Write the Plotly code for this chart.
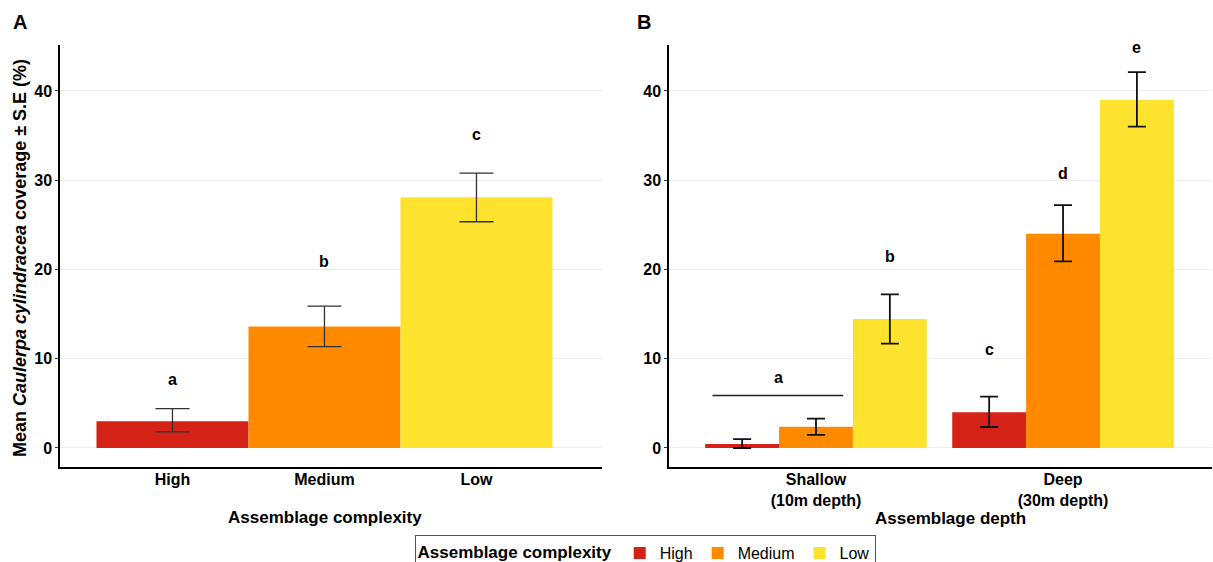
import plotly.graph_objects as go

# ---- data ----
complexity = ["High", "Medium", "Low"]
colors = ["#D42316", "#FF8A00", "#FDE22E"]

# Panel A
a_mean = [3.0, 13.6, 28.1]
a_upper = [4.4, 15.9, 30.8]
a_lower = [1.8, 11.35, 25.35]
a_letters = ["a", "b", "c"]
a_letter_y = [7.7, 20.9, 35.1]

# Panel B
depths = ["Shallow<br>(10m depth)", "Deep<br>(30m depth)"]
b_mean = {"High": [0.45, 4.0], "Medium": [2.38, 24.0], "Low": [14.45, 39.0]}
b_upper = {"High": [1.0, 5.75], "Medium": [3.3, 27.2], "Low": [17.2, 42.1]}
b_lower = {"High": [0.0, 2.35], "Medium": [1.48, 20.9], "Low": [11.7, 36.0]}
b_letters = {"High": ["", "c"], "Medium": ["", "d"], "Low": ["b", "e"]}
b_letter_y = {"High": [0, 11.0], "Medium": [0, 30.8], "Low": [21.4, 44.9]}
b_shared_letter = "a"
b_shared_letter_y = 7.95
b_shared_line_y = 5.87

W, H = 1213, 562
bargap_b = 0.103
FONT = "Liberation Sans"

fig = go.Figure()

# Panel A bars
fig.add_trace(go.Bar(
    x=complexity, y=a_mean, width=1,
    marker=dict(color=colors, line=dict(width=0)),
    error_y=dict(type="data", symmetric=False,
                 array=[u - m for u, m in zip(a_upper, a_mean)],
                 arrayminus=[m - l for m, l in zip(a_mean, a_lower)],
                 color="#333333", thickness=1.3, width=17),
    showlegend=False, xaxis="x", yaxis="y",
))

# Panel B bars
for name, col in zip(complexity, colors):
    m = b_mean[name]
    fig.add_trace(go.Bar(
        x=depths, y=m, name=name,
        marker=dict(color=col, line=dict(width=0)),
        error_y=dict(type="data", symmetric=False,
                     array=[u - v for u, v in zip(b_upper[name], m)],
                     arrayminus=[v - l for v, l in zip(m, b_lower[name])],
                     color="#111111", thickness=1.8, width=9),
        xaxis="x2", yaxis="y2",
    ))

bold16 = dict(size=16, color="black", family=FONT, weight="bold")
bold17 = dict(size=17, color="black", family=FONT, weight="bold")

# letters A
ann = []
for i, (t, yv) in enumerate(zip(a_letters, a_letter_y)):
    ann.append(dict(x=i, y=yv, xref="x", yref="y", text=t, xanchor="center",
                    yanchor="middle", showarrow=False, font=bold16))

# letters B
slot = (1 - bargap_b) / 3
for k, name in enumerate(complexity):
    off = (k - 1) * slot
    for g in range(len(depths)):
        t = b_letters[name][g]
        if t:
            ann.append(dict(x=g + off, y=b_letter_y[name][g], xref="x2", yref="y2",
                            text=t, xanchor="center", yanchor="middle",
                            showarrow=False, font=bold16))
ann.append(dict(x=-0.15, y=b_shared_letter_y, xref="x2", yref="y2",
                text=b_shared_letter, xanchor="center", yanchor="middle",
                showarrow=False, font=bold16))

shapes = [dict(type="line", xref="x2", yref="y2",
               x0=-slot - 0.12, x1=0.11, y0=b_shared_line_y, y1=b_shared_line_y,
               line=dict(color="#222222", width=1.5))]


def paper_text(px, py, text, font, angle=0):
    return dict(x=px / W, y=1 - py / H, xref="paper", yref="paper", text=text,
                xanchor="center", yanchor="middle", textangle=angle,
                showarrow=False, font=font)


# panel labels
ann.append(paper_text(20, 22, "A", dict(size=20, color="black", family=FONT, weight="bold")))
ann.append(paper_text(644, 22, "B", dict(size=20, color="black", family=FONT, weight="bold")))
# y title
ann.append(paper_text(20, 258, "Mean <i>Caulerpa cylindracea</i> coverage ± S.E (%)",
                      dict(size=18, color="black", family=FONT, weight="bold"), -90))
# x titles
ann.append(paper_text(325, 517, "Assemblage complexity", bold17))
ann.append(paper_text(950, 518, "Assemblage depth", bold17))

ydom = [1 - 467 / H, 1 - 45 / H]
yrange = [-2.13, 45.15]
tickfont = dict(size=16, color="black", family=FONT, weight="bold")
common_y = dict(range=yrange, showline=True, linecolor="black", linewidth=1.5,
                ticks="outside", ticklen=3, tickcolor="#333333",
                tickvals=[0, 10, 20, 30, 40], tickfont=tickfont,
                showgrid=True, gridcolor="#ececec", gridwidth=1, zeroline=False,
                domain=ydom, automargin=False)
common_x = dict(showline=True, linecolor="black", linewidth=1.5, ticks="",
                tickfont=tickfont, showgrid=False, zeroline=False, automargin=False,
                ticklabelstandoff=-3)

fig.update_layout(
    width=W, height=H,
    margin=dict(l=0, r=0, t=0, b=0, autoexpand=False),
    paper_bgcolor="white", plot_bgcolor="white",
    font=dict(family=FONT, color="black"),
    barmode="group", bargap=bargap_b, bargroupgap=0,
    xaxis=dict(domain=[60 / W, 602 / W], range=[-0.74, 2.826], anchor="y",
               type="category", **common_x),
    yaxis=dict(anchor="x", **common_y),
    xaxis2=dict(domain=[669 / W, 1212 / W], range=[-0.595, 1.603], anchor="y2",
                type="category", **common_x),
    yaxis2=dict(anchor="x2", **common_y),
    annotations=ann, shapes=shapes,
    legend=dict(orientation="h", x=645 / W, xanchor="center", y=1 - 535 / H, yanchor="top",
                bordercolor="#555555", borderwidth=1, bgcolor="white",
                title=dict(text="Assemblage complexity",
                           font=dict(size=17, color="black", family=FONT, weight="bold")),
                font=dict(size=16, family=FONT), itemwidth=30, traceorder="normal"),
)

fig.write_html("out.html", config={"displayModeBar": False},
               post_script="document.body.style.margin='0';document.body.style.overflow='hidden';")
